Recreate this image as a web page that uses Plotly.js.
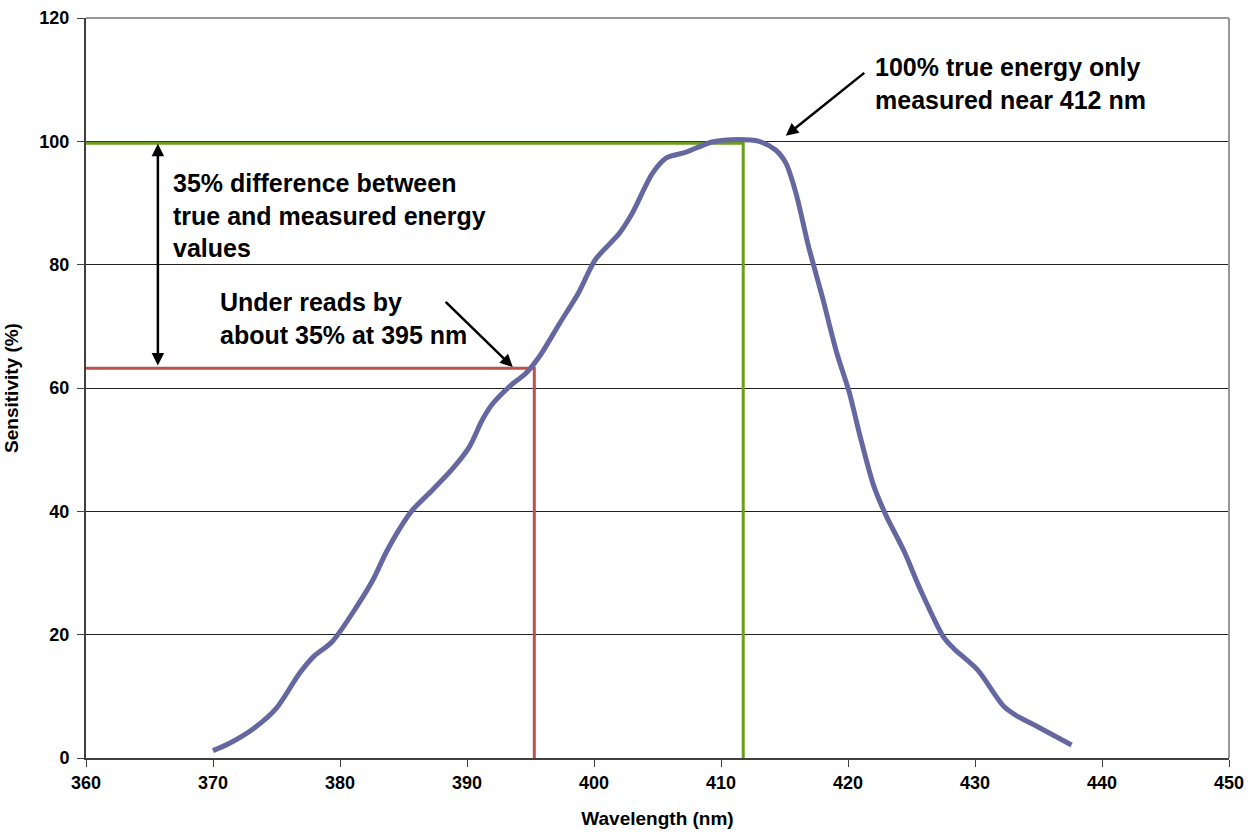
<!DOCTYPE html>
<html>
<head>
<meta charset="utf-8">
<script src="https://cdn.plot.ly/plotly-3.0.1.min.js"></script>
<style>html,body{margin:0;padding:0;background:#fff;}#chart{width:1253px;height:832px;}</style>
</head>
<body>
<div id="chart"></div>
<script>
// Sensitivity curve (wavelength nm, sensitivity %)
const wavelength = [370.0,371.3,373.2,375.0,376.8,377.9,379.4,381.3,382.6,383.6,384.7,385.7,387.3,388.9,390.2,391.2,392.0,393.6,394.6,395.7,397.3,398.8,400.1,402.0,403.0,404.6,405.7,407.2,409.3,411.4,413.0,414.3,415.1,415.9,416.9,418.0,419.1,420.1,420.9,422.0,423.0,424.4,425.7,427.5,428.3,430.2,432.3,433.4,434.9,437.6];
const sensitivity = [1.2,2.4,4.8,8.1,13.7,16.4,18.9,24.5,28.9,33.2,37.2,40.2,43.5,47.0,50.5,54.8,57.4,60.7,62.3,65.1,70.5,75.5,80.8,85.1,88.3,94.8,97.3,98.2,99.9,100.3,100.0,98.6,96.5,91.6,82.9,74.6,65.8,59.3,52.6,44.3,39.3,33.6,27.3,19.7,17.8,14.3,8.3,6.7,5.1,2.1];

// Reference guide lines
const peakX = [360, 411.75, 411.75];
const peakY = [99.7, 99.7, 0];
const underX = [360, 395.3, 395.3];
const underY = [63.2, 63.2, 0];

// Axis ticks
const xTicks = [360,370,380,390,400,410,420,430,440,450];
const yTicks = [0,20,40,60,80,100,120];

// Annotation texts
const noteDiff = "35% difference between<br>true and measured energy<br>values";
const noteUnder = "Under reads by<br>about 35% at 395 nm";
const notePeak = "100% true energy only<br>measured near 412 nm";

const FONT = "Liberation Sans, Arial, sans-serif";

const traces = [
  {x: underX, y: underY, mode: 'lines', line: {color: '#c0504d', width: 3}, hoverinfo: 'skip'},
  {x: peakX, y: peakY, mode: 'lines', line: {color: '#6b9e1b', width: 3}, hoverinfo: 'skip'},
  {x: wavelength, y: sensitivity, mode: 'lines', line: {color: '#6567a1', width: 5, shape: 'spline', smoothing: 0.8}, hoverinfo: 'skip'}
];

const txtFont = {family: FONT, size: 25, color: '#000', weight: 'bold'};

const layout = {
  width: 1253, height: 832,
  margin: {l: 86, r: 24, t: 18, b: 74},
  paper_bgcolor: '#fff', plot_bgcolor: '#fff',
  showlegend: false,
  font: {family: FONT, color: '#000'},
  xaxis: {
    range: [360, 450], tickvals: xTicks, ticktext: xTicks.map(String),
    showgrid: false, zeroline: false,
    showline: true, linecolor: '#404040', linewidth: 2,
    ticks: 'outside', ticklen: 7, tickwidth: 1, tickcolor: '#404040',
    tickfont: {family: FONT, size: 18, color: '#000', weight: 'bold'},
    title: {text: 'Wavelength (nm)', font: {family: FONT, size: 19, color: '#000', weight: 'bold'}, standoff: 20}
  },
  yaxis: {
    range: [0, 120], tickvals: yTicks, ticktext: yTicks.map(String),
    showgrid: true, gridcolor: '#222', gridwidth: 1, zeroline: false,
    showline: true, linecolor: '#404040', linewidth: 2,
    ticks: 'outside', ticklen: 7, tickwidth: 1, tickcolor: '#404040',
    ticklabelstandoff: 4,
    tickfont: {family: FONT, size: 18, color: '#000', weight: 'bold'},
    title: {text: 'Sensitivity (%)', font: {family: FONT, size: 19, color: '#000', weight: 'bold'}, standoff: 16}
  },
  shapes: [
    {type: 'line', xref: 'paper', yref: 'paper', x0: 0, x1: 1, y0: 1, y1: 1, line: {color: '#999', width: 2}},
    {type: 'line', xref: 'paper', yref: 'paper', x0: 1, x1: 1, y0: 0, y1: 1, line: {color: '#999', width: 2}}
  ],
  annotations: [
    {x: 365.66, y: 99.6, ax: 365.66, ay: 63.4, xref: 'x', yref: 'y', axref: 'x', ayref: 'y',
     text: '', showarrow: true, arrowhead: 2, startarrowhead: 2, arrowside: 'end+start', arrowsize: 1, startarrowsize: 1, arrowwidth: 2.5, arrowcolor: '#000'},
    {x: 393.6, y: 63.4, ax: 388.2, ay: 74.2, xref: 'x', yref: 'y', axref: 'x', ayref: 'y',
     text: '', showarrow: true, arrowhead: 2, arrowsize: 1, arrowwidth: 2.5, arrowcolor: '#000'},
    {x: 415.1, y: 100.9, ax: 421.4, ay: 111.3, xref: 'x', yref: 'y', axref: 'x', ayref: 'y',
     text: '', showarrow: true, arrowhead: 2, arrowsize: 1, arrowwidth: 2.5, arrowcolor: '#000'},
    {x: 366.7, y: 87.9, xref: 'x', yref: 'y', xanchor: 'left', yanchor: 'middle', align: 'left',
     text: noteDiff, showarrow: false, font: txtFont},
    {x: 370.4, y: 71.3, xref: 'x', yref: 'y', xanchor: 'left', yanchor: 'middle', align: 'left',
     text: noteUnder, showarrow: false, font: txtFont},
    {x: 422.0, y: 109.4, xref: 'x', yref: 'y', xanchor: 'left', yanchor: 'middle', align: 'left',
     text: notePeak, showarrow: false, font: txtFont}
  ]
};

Plotly.newPlot('chart', traces, layout, {staticPlot: true, displayModeBar: false});
</script>
</body>
</html>
